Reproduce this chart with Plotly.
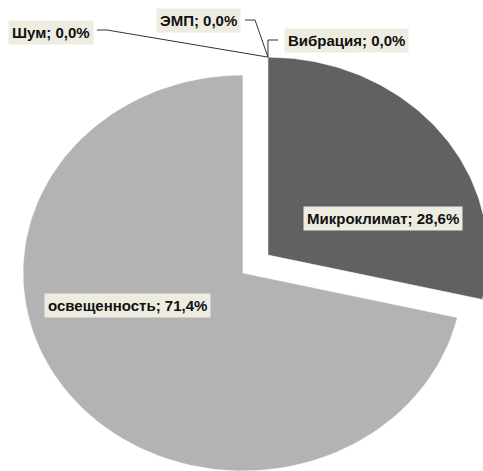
import numpy as np
import plotly.graph_objects as go

# data
labels = ["Шум", "ЭМП", "Вибрация", "Микроклимат", "освещенность"]
shares = [0.0, 0.0, 0.0, 28.6, 71.4]
pulls = [0, 0, 0, 0.145, 0]
colors = ["#8C8C8C", "#8C8C8C", "#8C8C8C", "#616161", "#B3B3B3"]

W, H = 483, 471
CX, CY = 243, 273      # pie centre (px)
RX, RY = 220, 198      # the original pie is slightly squashed
LABEL_BG = "#EEECE1"
LINE = "#333333"
FONT = dict(family="Liberation Sans, Arial, sans-serif", size=15, color="#111111")


def wedge(a0, a1, pull):
    mid = (a0 + a1) / 2
    ox = CX + pull * RX * np.sin(mid)
    oy = CY - pull * RY * np.cos(mid)
    t = np.linspace(a0, a1, 120)
    xs = np.concatenate([[ox], ox + RX * np.sin(t), [ox]])
    ys = np.concatenate([[oy], oy - RY * np.cos(t), [oy]])
    return xs, ys, (ox, oy)


total = sum(shares)
fig = go.Figure()
angle = 0.0
starts = {}
for lab, v, p, c in zip(labels, shares, pulls, colors):
    a0 = angle
    a1 = angle + v / total * 2 * np.pi
    angle = a1
    xs, ys, (ox, oy) = wedge(a0, a1, p)
    starts[lab] = (ox + RX * np.sin(a0), oy - RY * np.cos(a0))
    if v == 0:
        continue
    fig.add_trace(go.Scatter(
        x=xs, y=ys, mode="lines", fill="toself", fillcolor=c,
        line=dict(width=0.6, color="#FFFFFF"), name=lab,
        hoverinfo="text", text=f"{lab}: {v:.1f}%".replace(".", ","),
    ))

# zero slices sit at the start of the pulled slice
anchor = starts["Микроклимат"]

# label boxes: (x, y) centre in px, plus leader polyline for the zero slices
label_pos = {
    "Шум": (51, 32),
    "ЭМП": (198, 20),
    "Вибрация": (346, 40),
    "Микроклимат": (383, 218),
    "освещенность": (127, 305),
}
leaders = {
    "Шум": [(97, 30), (107, 30)],
    "ЭМП": [(245, 20), (255, 20)],
    "Вибрация": [(278, 40), (anchor[0], 40)],
}

for lab, pts in leaders.items():
    xs = [p[0] for p in pts] + [anchor[0]]
    ys = [p[1] for p in pts] + [anchor[1]]
    fig.add_trace(go.Scatter(x=xs, y=ys, mode="lines",
                             line=dict(color=LINE, width=1), hoverinfo="skip"))

for lab, v in zip(labels, shares):
    x, y = label_pos[lab]
    txt = f"<b>{lab}; {v / total * 100:.1f}%</b>".replace(".", ",")
    fig.add_annotation(x=x, y=y, xref="x", yref="y", text=txt, showarrow=False,
                       bgcolor=LABEL_BG, borderpad=3, font=FONT)

fig.update_layout(
    width=W, height=H,
    margin=dict(l=0, r=0, t=0, b=0),
    paper_bgcolor="white", plot_bgcolor="white",
    showlegend=False,
    xaxis=dict(range=[0, W], visible=False, fixedrange=True),
    yaxis=dict(range=[H, 0], visible=False, fixedrange=True),
)

# drop the browser's default body margin so the figure sits at the window's corner
fig.write_html("out.html", config={"displayModeBar": False},
               post_script="document.body.style.margin='0';")
